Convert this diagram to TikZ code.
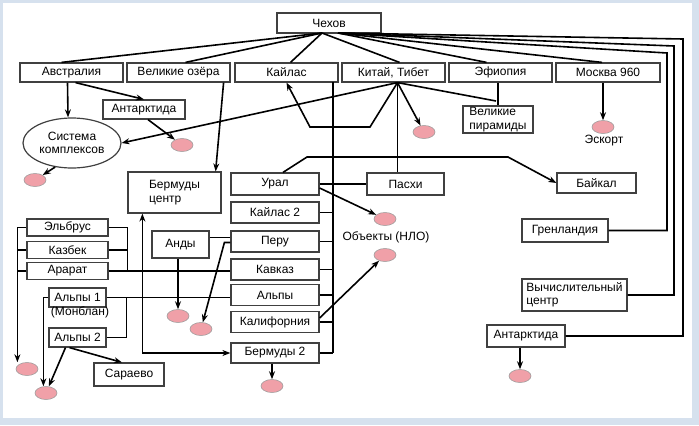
\documentclass[tikz,border=0pt]{standalone}
\usepackage{fontspec}
\setmainfont{Liberation Sans}
\usetikzlibrary{calc,shapes.geometric,arrows.meta}
\definecolor{frameblue}{RGB}{214,225,238}
\definecolor{spotpink}{RGB}{240,160,168}
\begin{document}
\begin{tikzpicture}[x=0.75pt,y=-0.75pt,>={Stealth[length=6pt,width=4.5pt]},line width=1.2pt,
				box/.style={draw=black!75,line width=0.9pt,fill=white,inner sep=1pt,
					font=\fontsize{9}{10}\selectfont,minimum width=77.25pt,minimum height=14.25pt},
				spot/.style={ellipse,draw=black!40,line width=0.4pt,fill=spotpink,
					minimum width=16.5pt,minimum height=9.75pt,inner sep=0pt},
				lbl/.style={font=\fontsize{9}{10}\selectfont,inner sep=0pt}]
				% frame
				\fill[frameblue] (0,0) rectangle (699,425);
				\fill[white] (3,3) rectangle (692,418);
				\useasboundingbox (0,0) rectangle (699,425);
				% top row
				\node[box,minimum width=78pt,minimum height=15pt] (chekhov) at (329,23) {Чехов};
				\node[box] (avstr) at (71.5,72.5) {Австралия};
				\node[box] (ozera) at (178.5,72.5) {Великие озёра};
				\node[box] (kailas) at (286.5,72.5) {Кайлас};
				\node[box] (kitai) at (393.5,72.5) {Китай, Тибет};
				\node[box] (efiop) at (500.5,72.5) {Эфиопия};
				\node[box,minimum width=78pt] (moskva) at (608,72.5) {Москва 960};
				% second level
				\node[box,minimum width=61.5pt] (antark1) at (144,109.5) {Антарктида};
				\node[draw=black!75,line width=0.9pt,ellipse,minimum width=73.5pt,minimum height=37.5pt,
					inner sep=0pt,align=center,font=\fontsize{9}{10}\selectfont] (sistema) at (72,143) {Система\\комплексов};
				\node[box,minimum width=52.5pt,minimum height=20.25pt,align=left] (piramidy) at (498,119.5) {Великие\\пирамиды};
				\node[box,minimum width=69.75pt,minimum height=30.75pt,align=left] (bermc) at (174.5,192.5) {Бермуды\\центр};
				% middle column
				\node[box,minimum width=66pt,minimum height=16.5pt] (ural) at (275,184) {Урал};
				\node[box,minimum width=66pt,minimum height=15.75pt] (kailas2) at (275,212.5) {Кайлас 2};
				\node[box,minimum width=66pt,minimum height=15.75pt] (peru) at (275,241.5) {Перу};
				\node[box,minimum width=66pt,minimum height=15.75pt] (kavkaz) at (275,269.5) {Кавказ};
				\node[box,minimum width=66pt,minimum height=15.75pt] (alpy) at (275,295) {Альпы};
				\node[box,minimum width=66pt,minimum height=15.75pt] (kalif) at (275,322) {Калифорния};
				\node[box,minimum width=66pt,minimum height=15pt] (berm2) at (275,353) {Бермуды 2};
				\node[box,minimum width=57.75pt,minimum height=16.5pt] (pashi) at (405.5,184) {Пасхи};
				\node[box,minimum width=59.25pt,minimum height=15pt] (baikal) at (596.5,183) {Байкал};
				\node[box,minimum width=42.75pt,minimum height=20.25pt] (andy) at (180.5,244.5) {Анды};
				% right side
				\node[box,minimum width=64.5pt,minimum height=17.25pt] (grenl) at (565,230.5) {Гренландия};
				\node[box,minimum width=78.75pt,minimum height=24pt,align=left] (vych) at (574.5,295) {Вычислительный\\центр};
				\node[box,minimum width=58.5pt,minimum height=16.5pt] (antark2) at (526,336) {Антарктида};
				% left group
				\node[box,minimum width=60.75pt,minimum height=12.75pt] (elbrus) at (67.5,227.5) {Эльбрус};
				\node[box,minimum width=60.75pt,minimum height=12.75pt] (kazbek) at (67.5,250) {Казбек};
				\node[box,minimum width=60.75pt,minimum height=12.75pt] (ararat) at (67.5,271) {Арарат};
				\node[box,minimum width=42.75pt,minimum height=14.25pt] (alpy1) at (77.5,297.5) {Альпы 1};
				\node[box,minimum width=42.75pt,minimum height=14.25pt] (alpy2) at (77.5,337.5) {Альпы 2};
				\node[box,minimum width=52.5pt,minimum height=17.25pt] (saraevo) at (129,374.5) {Сараево};
				% labels
				\node[lbl] (monblan) at (80,312) {(Монблан)};
				\node[lbl] (nlo) at (386,237) {Объекты (НЛО)};
				\node[lbl] (eskort) at (604,141) {Эскорт};
				% spots
				\node[spot] (e1) at (182,145) {};
				\node[spot] (e2) at (35,180) {};
				\node[spot] (e3) at (424,132) {};
				\node[spot] (e4) at (603,127) {};
				\node[spot] (e5) at (385,219) {};
				\node[spot] (e6) at (385,255) {};
				\node[spot] (e7) at (178,316) {};
				\node[spot] (e8) at (201,329) {};
				\node[spot] (e9) at (27,369) {};
				\node[spot] (e10) at (46,393) {};
				\node[spot] (e11) at (272,386) {};
				\node[spot] (e12) at (520,376) {};
				% Chekhov fan
				\coordinate (cl) at (322,33);
				\coordinate (cr) at (338,33);
				\coordinate (r1) at (683,39);
				\coordinate (r2) at (674,46);
				\coordinate (r3) at (667,53);
				\draw (cl) -- ($(avstr.north)+(-10,0)$);
				\draw (cl) -- ($(ozera.north)+(7,0)$);
				\draw (cl) -- ($(kailas.north)+(4,0)$);
				\draw (cl) -- ($(kitai.north)+(6,0)$);
				\draw (cr) -- ($(efiop.north)+(-14,0)$);
				\draw (cr) -- ($(moskva.north)+(-6,0)$);
				\draw (cr) -- (r1) |- (antark2.east);
				\draw (cr) -- (r2) |- (vych.east);
				\draw (cr) -- (r3) |- (grenl.east);
				% Australia
				\draw[->] ($(avstr.south)+(-4,0)$) -- ($(sistema.north)+(-4,0)$);
				\draw[->] ($(avstr.south)+(4,0)$) -- (antark1.north);
				\draw[->] ($(antark1.south)+(4,0)$) -- (e1);
				\draw[->] (sistema.235) -- (e2);
				% China, Tibet
				\coordinate (kt) at ($(kitai.south)+(4,0)$);
				\draw[->] (kt) -- (sistema.east);
				\draw[->] (kt) -- (370,127) -- (310,127) -- (kailas.south);
				\draw[->] (kt) -- (e3);
				\draw (kt) -- (kt |- pashi.north);
				\draw (kt) -- (496,101);
				\draw (efiop.south -| piramidy.north) -- (piramidy.north);
				\draw[->] (moskva.south -| e4) -- (e4);
				\draw[->] ($(ozera.south east)+(-7,0)$) -- ($(bermc.north east)+(-6,0)$);
				% Ural
				\draw[->] ($(ural.north)+(8,0)$) -- (307,157) -- (508,157) -- (baikal.west);
				\draw (ural.east) -- (pashi.west);
				\draw[->] ($(ural.east)+(0,4)$) -- (e5);
				\draw[->] ($(kalif.east)+(0,-4)$) -- (e6);
				% bus from Kailas
				\coordinate (bt) at (333,82);
				\coordinate (bb) at (333,353);
				\draw (bt) -- (bb);
				\foreach \n in {kailas2,peru,kavkaz,alpy,kalif}
				{\draw (\n.east) -- (\n.east -| bt);}
				\draw (berm2.east) -- (bb);
				\draw[<->] (berm2.west) -| ($(bermc.south west)+(15,0)$);
				\draw[->] (berm2.south -| e11) -- (e11);
				% Andes, Peru
				\draw ($(andy.east)+(0,-7)$) -- ($(peru.west)+(0,-4)$);
				\draw[->] (andy.south -| e7) -- (e7);
				\draw[->] ($(peru.west)+(0,1)$) -- ++(-6,0) -- (e8);
				% left group
				\draw[->] (elbrus.west) -- ++(-9,0) coordinate (lt) -- (lt |- e9.north);
				\draw (kazbek.west) -- (kazbek.west -| lt);
				\draw (ararat.west) -- (ararat.west -| lt);
				\draw (elbrus.east) -- ++(19,0) coordinate (rt) -- (rt |- ararat.east);
				\draw (kazbek.east) -- (kazbek.east -| rt);
				\draw (ararat.east) -- (ararat.east -| kavkaz.west);
				\draw (alpy1.east) -- (alpy1.east -| alpy.west);
				\draw (alpy2.east) -- ++(20,0) coordinate (a2) -- (a2 |- alpy1.east);
				\draw[->] (alpy1.west) -- ++(-5,0) coordinate (a1) -- (a1 |- e10.north);
				\draw[->] ($(alpy2.south)+(-12,0)$) -- (e10);
				\draw[->] ($(alpy2.south)+(-8,0)$) -- ($(saraevo.north)+(-7,0)$);
				% Antarctica 2
				\draw[->] (antark2.south -| e12) -- (e12);
			\end{tikzpicture}
\end{document}
